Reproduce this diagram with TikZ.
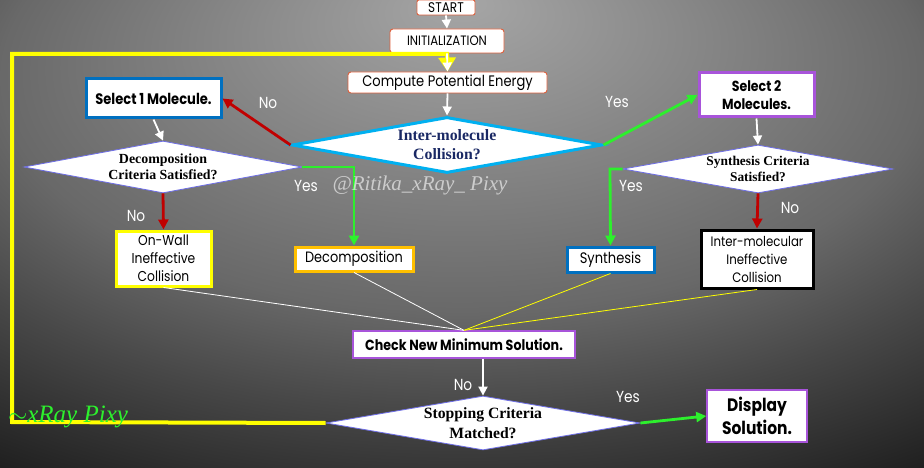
\documentclass[tikz,border=0pt]{standalone}
\usepackage{fontspec}
\setmainfont{Liberation Serif}
\newfontfamily\gf[FakeStretch=0.86]{Poppins}
\newfontfamily\tn{Liberation Serif}
\usetikzlibrary{arrows.meta,shapes.geometric,calc}
\definecolor{bgA}{gray}{0.65}
\definecolor{bgB}{gray}{0.41}
\definecolor{bgC}{gray}{0.28}
\definecolor{bgD}{gray}{0.10}
\definecolor{bgE}{gray}{0.02}
\definecolor{bgF}{gray}{0.0}
\definecolor{orred}{RGB}{222,96,60}
\definecolor{skyb}{RGB}{0,176,240}
\definecolor{deepb}{RGB}{0,112,192}
\definecolor{yel}{RGB}{255,255,0}
\definecolor{orng}{RGB}{255,192,0}
\definecolor{purp}{RGB}{168,84,218}
\definecolor{redd}{RGB}{192,0,0}
\definecolor{grn}{RGB}{45,240,45}
\definecolor{navy}{RGB}{25,40,100}
\definecolor{dborder}{RGB}{110,110,230}
\pgfdeclareradialshading{bgshade}{\pgfpoint{0bp}{25bp}}{color(0bp)=(bgA); color(25bp)=(bgB); color(33bp)=(bgC); color(45bp)=(bgD); color(52bp)=(bgE); color(60bp)=(bgF); color(75bp)=(bgF)}
\begin{document}
\begin{tikzpicture}[x=1pt,y=-1pt,
  box/.style={draw, fill=white, inner sep=0pt},
  thinbox/.style={box, draw=orred, line width=0.9pt, rounded corners=2pt},
  dia/.style={diamond, draw=dborder, line width=0.8pt, fill=white, inner sep=0pt},
  txt/.style={inner sep=0pt, align=center, text=black},
  warr/.style={draw=white, line width=1.8pt, -{Triangle[length=9pt,width=9pt]}},
  rarr/.style={draw=redd, line width=2.8pt, -{Triangle[length=10pt,width=10pt]}},
  garr/.style={draw=grn, line width=2.8pt, -{Triangle[length=10pt,width=10pt]}},
  lbl/.style={text=white, font=\gf\fontsize{16}{18}\selectfont, inner sep=0pt}
]
\useasboundingbox (0,0) rectangle (924,468);
\shade[shading=bgshade] (0,0) rectangle (924,468);

% boxes and diamonds
\node[thinbox, minimum width=58pt, minimum height=15pt] (start) at (446,7.5) {};
\node[txt, font=\gf\fontsize{14}{16}\selectfont] (startT) at (start) {START};
\node[thinbox, minimum width=114pt, minimum height=24pt, rounded corners=3pt] (init) at (447,41) {};
\node[txt, font=\gf\fontsize{13.6}{16}\selectfont] (initT) at (init) {INITIALIZATION};
\node[thinbox, minimum width=199pt, minimum height=21pt, rounded corners=3pt] (comp) at (447.5,82.5) {};
\node[txt, font=\gf\fontsize{15.2}{17}\selectfont] (compT) at (comp) {Compute Potential Energy};

\node[dia, draw=skyb, line width=3pt, minimum width=310pt, minimum height=56pt] (d1) at (447,145) {};
\node[txt, text=navy, font=\tn\bfseries\fontsize{15.8}{19}\selectfont] (d1T) at (d1) {Inter-molecule\\Collision?};

\node[box, draw=deepb, line width=3pt, minimum width=135pt, minimum height=39pt] (sel1) at (153.5,98.5) {};
\node[txt, font=\gf\bfseries\fontsize{15.2}{17}\selectfont] (sel1T) at (sel1) {Select 1 Molecule.};
\node[dia, minimum width=278pt, minimum height=52pt] (d2) at (163,167) {};
\node[txt, font=\tn\bfseries\fontsize{13.9}{15.5}\selectfont] (d2T) at (d2) {Decomposition\\Criteria Satisfied?};
\node[box, draw=yel, line width=3pt, minimum width=95pt, minimum height=55pt] (onwall) at (163.5,258.5) {};
\node[txt, font=\gf\fontsize{14.3}{18}\selectfont] (onwallT) at (onwall) {On-Wall\\Ineffective\\Collision};
\node[box, draw=orng, line width=3pt, minimum width=118pt, minimum height=24pt] (decomp) at (354,259) {};
\node[txt, font=\gf\fontsize{15}{17}\selectfont] (decompT) at (decomp) {Decomposition};

\node[box, draw=purp, line width=3pt, minimum width=115pt, minimum height=44pt] (sel2) at (756.5,95) {};
\node[txt, font=\gf\bfseries\fontsize{14.6}{17.5}\selectfont] (sel2T) at (sel2) {Select 2\\Molecules.};
\node[dia, minimum width=270pt, minimum height=48pt] (d3) at (758,169) {};
\node[txt, font=\tn\bfseries\fontsize{13.4}{16}\selectfont] (d3T) at (d3) {Synthesis Criteria\\Satisfied?};
\node[box, draw=deepb, line width=3pt, minimum width=87pt, minimum height=25pt] (synth) at (610.5,259.5) {};
\node[txt, font=\gf\fontsize{15.2}{17}\selectfont] (synthT) at (synth) {Synthesis};
\node[box, draw=black, line width=3pt, minimum width=112pt, minimum height=58pt] (inter) at (757,259) {};
\node[txt, font=\gf\fontsize{13.7}{18}\selectfont] (interT) at (inter) {Inter-molecular\\Ineffective\\Collision};

\node[box, draw=purp, line width=1.3pt, minimum width=222pt, minimum height=27pt] (check) at (464,344.5) {};
\node[txt, font=\gf\bfseries\fontsize{14.7}{17}\selectfont] (checkT) at (check) {Check New Minimum Solution.};
\node[dia, minimum width=314pt, minimum height=54pt] (d4) at (483,423) {};
\node[txt, font=\tn\bfseries\fontsize{15.7}{20}\selectfont] (d4T) at (d4) {Stopping Criteria\\Matched?};
\node[box, draw=purp, line width=1.5pt, minimum width=100pt, minimum height=52pt] (disp) at (757,416) {};
\node[txt, font=\gf\bfseries\fontsize{18}{23}\selectfont] (dispT) at (disp) {Display\\Solution.};

% yellow loop
\coordinate (yl) at (12,422);
\coordinate (yt) at (12,54);
\coordinate (ytr) at (447,54);
\draw[draw=yel, line width=4pt, -{Triangle[length=14pt,width=17pt]}] (d4.west) -- (yl) -- (yt) -- (ytr) -- (comp.north);

% main flow
\draw[warr] (start.south) -- (init.north);
\draw[warr] (init.south) -- (comp.north);
\draw[warr] (comp.south) -- (d1.north);

\draw[rarr] (d1.west) -- (sel1.east);
\node[lbl] (no1) at (268,103) {No};
\draw[warr] (sel1.south) -- (d2.north);
\coordinate (g1) at (354,167);
\draw[garr] (d2.east) -- (g1) -- (decomp.north);
\node[lbl] (yes1) at (306,186) {Yes};
\draw[rarr] (d2.south) -- (onwall.north);
\node[lbl] (no2) at (136,216) {No};

\draw[garr] (d1.east) -- (sel2.west);
\node[lbl] (yes2) at (617,102) {Yes};
\draw[warr] (sel2.south) -- (d3.north);
\coordinate (g2) at (610,169);
\draw[garr] (d3.west) -- (g2) -- (synth.north);
\node[lbl] (yes3) at (631,186) {Yes};
\draw[rarr] (d3.south) -- (inter.north);
\node[lbl] (no3) at (790,208) {No};

% converging lines
\draw[white, line width=0.8pt] (onwall.south) -- (check.north);
\draw[white, line width=0.8pt] (decomp.south) -- (check.north);
\draw[yel, line width=0.8pt] (synth.south) -- (check.north);
\draw[yel, line width=0.8pt] (inter.south) -- (check.north);

\draw[warr] (d4.north |- check.south) -- (d4.north);
\node[lbl] (no4) at (463,385) {No};
\draw[garr] (d4.east) -- (disp.west);
\node[lbl] (yes4) at (628,397) {Yes};

% watermarks
\node[text=white, opacity=0.6, font=\tn\itshape\fontsize{21}{23}\selectfont, inner sep=0pt] (wm1) at (420,185) {@Ritika\_xRay\_ Pixy};
\node[text=grn, font=\tn\itshape\fontsize{25}{27}\selectfont, inner sep=0pt] (wm2) at (68,417) {$\sim$xRay Pixy};
\end{tikzpicture}
\end{document}
